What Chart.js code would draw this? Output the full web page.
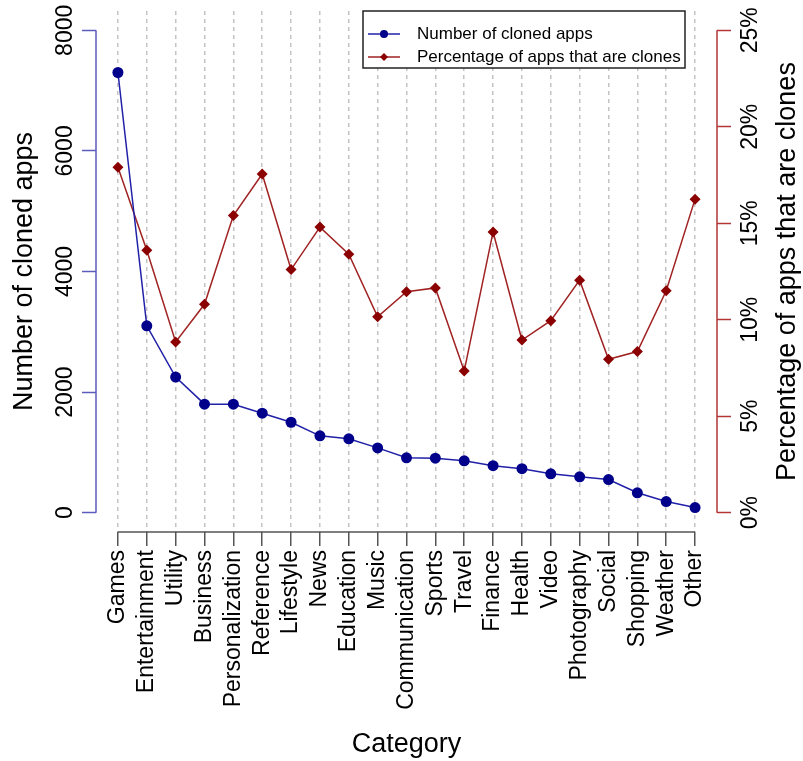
<!DOCTYPE html>
<html>
<head>
<meta charset="utf-8">
<title>Cloned apps by category</title>
<script src="https://cdn.jsdelivr.net/npm/chart.js@4.4.1/dist/chart.umd.min.js"></script>
<style>
    html, body { margin: 0; padding: 0; background: #fff; }
    #wrap { width: 803px; height: 761px; }
</style>
</head>
<body>
<div id="wrap"><canvas id="chart" width="803" height="761"></canvas></div>
<script>
// --- data ---
const categories = [
    'Games', 'Entertainment', 'Utility', 'Business', 'Personalization',
    'Reference', 'Lifestyle', 'News', 'Education', 'Music',
    'Communication', 'Sports', 'Travel', 'Finance', 'Health',
    'Video', 'Photography', 'Social', 'Shopping', 'Weather', 'Other'
];
const clonedApps = [
    7300, 3100, 2250, 1800, 1800,
    1650, 1500, 1275, 1225, 1075,
    910, 905, 860, 780, 730,
    645, 595, 550, 330, 185, 85
];
const clonePercent = [
    17.9, 13.6, 8.85, 10.8, 15.4,
    17.55, 12.6, 14.8, 13.4, 10.15,
    11.45, 11.65, 7.35, 14.55, 8.95,
    9.95, 12.05, 7.95, 8.35, 11.5, 16.25
];
const countTicks = [0, 2000, 4000, 6000, 8000];
const percentTicks = [0, 5, 10, 15, 20, 25];

const FONT = "'Liberation Sans', Arial, Helvetica, sans-serif";
const BLUE = '#00008b';
const RED = '#8b0000';
const BLUE_AXIS = '#5b5bbd';
const RED_AXIS = '#b33535';

/**
 * Pin axis sizes so the plot area sits where the reference has it
 */
function fixSize(size, horizontal) {
    return (scale) => {
        if (horizontal) scale.height = size;
        else scale.width = size;
        scale.paddingTop = 0;
        scale.paddingBottom = 0;
        scale.paddingLeft = 0;
        scale.paddingRight = 0;
    };
}

// axis lines only span the tick range (R style), plus legend and right title
const extras = {
    id: 'extras',
    beforeDatasetsDraw(chart) {
        const ctx = chart.ctx;
        const {x, y, y2} = chart.scales;
        ctx.save();
        ctx.lineWidth = 1.5;

        ctx.strokeStyle = '#555';
        ctx.beginPath();
        ctx.moveTo(x.getPixelForValue(0), x.top);
        ctx.lineTo(x.getPixelForValue(categories.length - 1), x.top);
        ctx.stroke();

        ctx.strokeStyle = BLUE_AXIS;
        ctx.beginPath();
        ctx.moveTo(y.right, y.getPixelForValue(countTicks[0]));
        ctx.lineTo(y.right, y.getPixelForValue(countTicks[countTicks.length - 1]));
        ctx.stroke();

        ctx.strokeStyle = RED_AXIS;
        ctx.beginPath();
        ctx.moveTo(y2.left, y2.getPixelForValue(percentTicks[0]));
        ctx.lineTo(y2.left, y2.getPixelForValue(percentTicks[percentTicks.length - 1]));
        ctx.stroke();
        ctx.restore();
    },
    afterDraw(chart) {
        const ctx = chart.ctx;
        const area = chart.chartArea;

        // right axis title reads bottom to top, like the left one
        ctx.save();
        ctx.translate(788, (area.top + area.bottom) / 2);
        ctx.rotate(-Math.PI / 2);
        ctx.fillStyle = '#000';
        ctx.font = '27px ' + FONT;
        ctx.textAlign = 'center';
        ctx.textBaseline = 'middle';
        ctx.fillText('Percentage of apps that are clones', 0, 0);
        ctx.restore();

        // legend box
        const box = {left: 363, top: 11, width: 322, height: 57};
        ctx.save();
        ctx.fillStyle = '#fff';
        ctx.fillRect(box.left, box.top, box.width, box.height);
        ctx.strokeStyle = '#222';
        ctx.lineWidth = 1.5;
        ctx.strokeRect(box.left, box.top, box.width, box.height);

        chart.data.datasets.forEach((ds, i) => {
            const rowY = box.top + 23 + i * 23;
            ctx.strokeStyle = ds.borderColor;
            ctx.lineWidth = 1.5;
            ctx.beginPath();
            ctx.moveTo(box.left + 5, rowY);
            ctx.lineTo(box.left + 37, rowY);
            ctx.stroke();
            ctx.fillStyle = ds.pointBackgroundColor;
            Chart.helpers.drawPoint(ctx, {
                pointStyle: ds.pointStyle,
                rotation: 0,
                radius: 4,
                borderWidth: 0
            }, box.left + 21, rowY);

            ctx.fillStyle = '#000';
            ctx.font = '17px ' + FONT;
            ctx.textAlign = 'left';
            ctx.textBaseline = 'middle';
            ctx.fillText(ds.label, box.left + 54, rowY);
        });
        ctx.restore();
    }
};

const ctx = document.getElementById('chart').getContext('2d');
new Chart(ctx, {
    type: 'line',
    data: {
        datasets: [
            {
                label: 'Number of cloned apps',
                data: clonedApps.map((v, i) => ({x: i, y: v})),
                yAxisID: 'y',
                borderColor: '#2020a8',
                borderWidth: 1.5,
                pointStyle: 'circle',
                pointRadius: 5.5,
                pointBackgroundColor: BLUE,
                pointBorderColor: BLUE,
                pointBorderWidth: 0
            },
            {
                label: 'Percentage of apps that are clones',
                data: clonePercent.map((v, i) => ({x: i, y: v})),
                yAxisID: 'y2',
                borderColor: '#a02222',
                borderWidth: 1.5,
                pointStyle: 'rectRot',
                pointRadius: 5.5,
                pointBackgroundColor: RED,
                pointBorderColor: RED,
                pointBorderWidth: 0
            }
        ]
    },
    options: {
        responsive: false,
        animation: false,
        devicePixelRatio: 1,
        layout: { padding: { top: 11, left: 0, right: 0, bottom: 0 } },
        plugins: {
            legend: { display: false },
            tooltip: { enabled: false }
        },
        scales: {
            x: {
                type: 'linear',
                position: 'bottom',
                min: -0.76,
                max: categories.length - 1 + 0.76,
                afterBuildTicks: (s) => { s.ticks = categories.map((c, i) => ({value: i})); },
                afterFit: fixSize(229, true),
                border: { display: false, dash: [4, 4] },
                grid: {
                    color: '#c4c4c4',
                    lineWidth: 1.5,
                    tickLength: 14,
                    tickColor: '#555',
                    tickWidth: 1.5
                },
                ticks: {
                    autoSkip: false,
                    minRotation: 90,
                    maxRotation: 90,
                    padding: 4,
                    color: '#000',
                    font: { family: FONT, size: 23 },
                    callback: (v) => categories[v]
                },
                title: {
                    display: true,
                    text: 'Category',
                    color: '#000',
                    font: { family: FONT, size: 27 },
                    padding: { top: 0, bottom: 0 }
                }
            },
            y: {
                type: 'linear',
                position: 'left',
                min: -320,
                max: 8320,
                afterBuildTicks: (s) => { s.ticks = countTicks.map(v => ({value: v})); },
                afterFit: fixSize(96, false),
                border: { display: false },
                grid: {
                    drawOnChartArea: false,
                    tickLength: 14,
                    tickColor: BLUE_AXIS,
                    tickWidth: 1.5
                },
                ticks: {
                    minRotation: 90,
                    maxRotation: 90,
                    crossAlign: 'center',
                    padding: -9,
                    color: '#000',
                    font: { family: FONT, size: 23 },
                    callback: (v) => String(v)
                },
                title: {
                    display: true,
                    text: 'Number of cloned apps',
                    color: '#000',
                    font: { family: FONT, size: 27 },
                    padding: { top: 8, bottom: 0 }
                }
            },
            y2: {
                type: 'linear',
                position: 'right',
                min: -1,
                max: 26,
                afterBuildTicks: (s) => { s.ticks = percentTicks.map(v => ({value: v})); },
                afterFit: fixSize(86, false),
                border: { display: false },
                grid: {
                    drawOnChartArea: false,
                    tickLength: 14,
                    tickColor: RED_AXIS,
                    tickWidth: 1.5
                },
                ticks: {
                    minRotation: 90,
                    maxRotation: 90,
                    crossAlign: 'center',
                    padding: -3,
                    color: '#000',
                    font: { family: FONT, size: 23 },
                    callback: (v) => v + '%'
                }
            }
        }
    },
    plugins: [extras]
});
</script>
</body>
</html>
